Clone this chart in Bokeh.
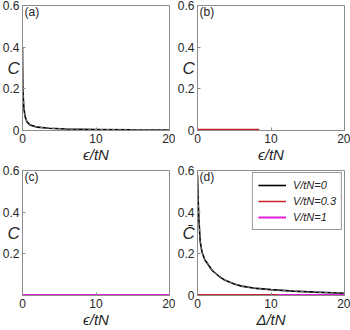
from bokeh.plotting import figure
from bokeh.layouts import gridplot
from bokeh.models import Range1d, FixedTicker, Label, Legend, LegendItem
from bokeh.embed import file_html
from bokeh.resources import INLINE

# ---- data ----
xa = [0, 0.02, 0.05, 0.1, 0.2, 0.37, 0.6, 1, 2, 3.6, 6, 10, 15, 20]
ya = [0.40, 0.30, 0.21, 0.16, 0.10, 0.065, 0.042, 0.027, 0.016, 0.011, 0.007, 0.005, 0.003, 0.002]

xb = [0, 2, 4, 6, 8.4]
yb = [0.004, 0.004, 0.004, 0.004, 0.004]

xc = [0, 5, 10, 15, 20]
yc = [0.002, 0.002, 0.002, 0.002, 0.002]

xd0 = [0, 0.1, 0.2, 0.37, 0.6, 1, 1.33, 2, 3, 3.6, 5, 6, 8, 10, 13, 16, 20]
yd0 = [0.58, 0.45, 0.36, 0.26, 0.21, 0.17, 0.155, 0.12, 0.09, 0.076, 0.055, 0.045, 0.034, 0.028, 0.021, 0.016, 0.011]
xd1 = [0, 5, 11]
yd1 = [0.004, 0.004, 0.004]
xd2 = [0, 10, 20]
yd2 = [0.002, 0.002, 0.002]

xticks = [0, 10, 20]
yticks = [0, 0.2, 0.4, 0.6]
ytick_labels = {0: "0", 0.2: "0.2", 0.4: "0.4", 0.6: "0.6"}
legend_labels = ["V/tN=0", "V/tN=0.3", "V/tN=1"]

BLACK = "#000000"
RED = "#c8202a"
MAG = "#e020d8"
AXC = "#8c8c8c"
TXT = "#262626"
FONT = "Liberation Sans"


def make_panel(tag, xlabel, ylabel, yt):
    p = figure(width=175, height=165, output_backend="svg", toolbar_location=None,
               x_range=Range1d(0, 20), y_range=Range1d(0, 0.6),
               min_border_left=22, min_border_right=6, min_border_top=5,
               min_border_bottom=31)
    p.grid.visible = False
    p.outline_line_color = AXC
    p.outline_line_width = 1
    p.background_fill_color = "white"
    for ax in (p.xaxis[0], p.yaxis[0]):
        ax.axis_line_color = AXC
        ax.major_tick_line_color = AXC
        ax.major_tick_in = 3
        ax.major_tick_out = 0
        ax.minor_tick_line_color = None
        ax.major_label_text_font = FONT
        ax.major_label_text_font_size = "12px"
        ax.major_label_text_color = TXT
    p.xaxis.ticker = FixedTicker(ticks=xticks)
    p.yaxis.ticker = FixedTicker(ticks=yt)
    p.yaxis.major_label_overrides = ytick_labels
    p.xaxis.major_label_standoff = 3
    p.yaxis.major_label_standoff = 3
    p.xaxis.axis_label = xlabel
    p.xaxis.axis_label_text_font = FONT
    p.xaxis.axis_label_text_font_style = "italic"
    p.xaxis.axis_label_text_font_size = "15px"
    p.xaxis.axis_label_text_color = TXT
    p.xaxis.axis_label_standoff = 0
    p.yaxis.axis_label = ylabel
    p.yaxis.axis_label_orientation = "horizontal"
    p.yaxis.axis_label_text_font = FONT
    p.yaxis.axis_label_text_font_style = "italic"
    p.yaxis.axis_label_text_font_size = "17px"
    p.yaxis.axis_label_text_color = TXT
    p.yaxis.axis_label_standoff = -20
    p.add_layout(Label(x=2, y=126, x_units="screen", y_units="screen", text=tag,
                       text_font=FONT, text_font_size="12px", text_color=TXT,
                       text_baseline="top", text_align="left"))
    return p


pa = make_panel("(a)", "\u03f5/tN", "C", yticks)
pa.line(xa, ya, line_color=BLACK, line_width=1.6)
pa.line(xa, ya, line_color="#9a9a9a", line_width=0.8, line_dash="3 3")

pb = make_panel("(b)", "\u03f5/tN", "C", yticks)
pb.line(xb, yb, line_color=RED, line_width=2)

pc = make_panel("(c)", "\u03f5/tN", "C", [0.2, 0.4, 0.6])
pc.line(xc, yc, line_color=MAG, line_width=2)

pd = make_panel("(d)", "\u0394/tN", "C\u0304", yticks)
r0 = pd.line(xd0, yd0, line_color=BLACK, line_width=1.6)
pd.line(xd0, yd0, line_color="#9a9a9a", line_width=0.8, line_dash="3 3")
r2 = pd.line(xd2, yd2, line_color=MAG, line_width=2)
r1 = pd.line(xd1, yd1, line_color=RED, line_width=1.5)

leg = Legend(items=[LegendItem(label=legend_labels[0], renderers=[r0]),
                    LegendItem(label=legend_labels[1], renderers=[r1]),
                    LegendItem(label=legend_labels[2], renderers=[r2])],
             location="top_right", margin=2, padding=5, spacing=2,
             glyph_width=28, glyph_height=14, label_standoff=7,
             label_text_font=FONT, label_text_font_style="italic",
             label_text_font_size="11px", label_text_color=TXT,
             border_line_color="#333333", border_line_width=1,
             background_fill_alpha=1)
pd.add_layout(leg)

grid = gridplot([[pa, pb], [pc, pd]], toolbar_location=None)
open("out.html", "w").write(file_html(grid, INLINE))
